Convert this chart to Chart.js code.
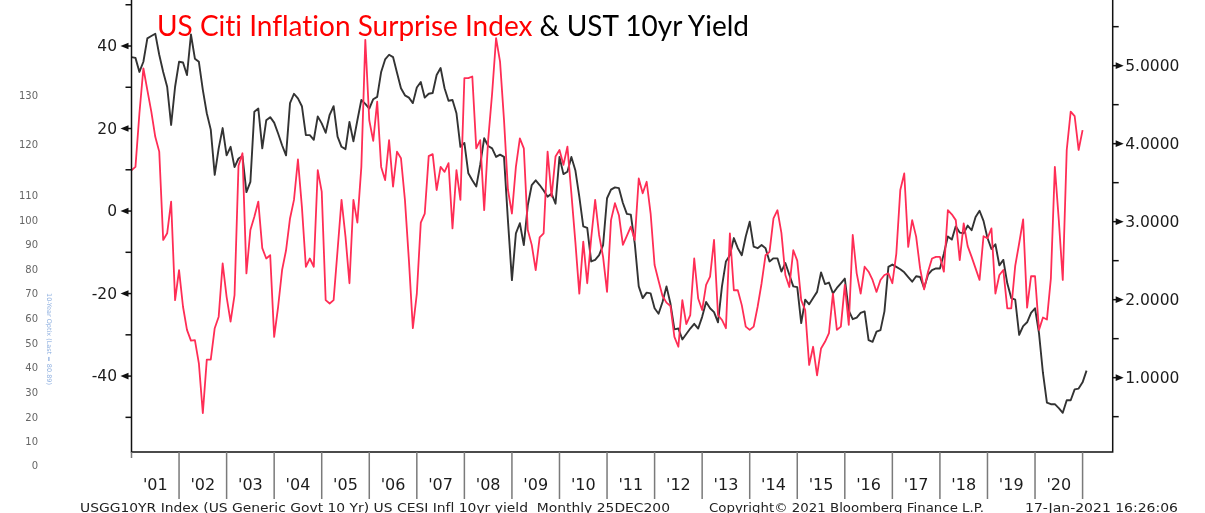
<!DOCTYPE html>
<html>
<head>
<meta charset="utf-8">
<script src="https://cdn.jsdelivr.net/npm/chart.js@4.4.1/dist/chart.umd.min.js"></script>
<style>
  html, body { margin: 0; padding: 0; background: #fff; }
  #wrap { position: relative; width: 1205px; height: 513px; overflow: hidden; }
  #chart { position: absolute; left: 0; top: 0; }
  .t { position: absolute; white-space: pre; transform-origin: 0 0; font-variant-ligatures: none; font-feature-settings: "liga" 0, "clig" 0; }
  #title { left: 157px; top: 10px; font-family: Lato, 'Open Sans', sans-serif; font-size: 29px; line-height: 29px; }
  .foot { top: 501px; font-family: 'DejaVu Sans', sans-serif; font-size: 13px; line-height: 13px; color: #222; }
  .old { left: 14px; width: 24px; text-align: right; font-family: 'DejaVu Sans', sans-serif; font-size: 10px; line-height: 10px; color: #666; }
  #optix { left: 52px; top: 293px; font-family: 'DejaVu Sans', sans-serif; font-size: 6.5px; line-height: 7px; color: #8fb0e0; transform: rotate(90deg); }
</style>
</head>
<body>
<div id="wrap">
  <canvas id="chart" width="1205" height="513"></canvas>
  <div id="title" class="t" data-w="592"><span style="color:#ff0000">US Citi Inflation Surprise Index</span> <span style="color:#000">&amp; UST 10yr Yield</span></div>
  <div class="t foot" style="left:80px" data-w="590">USGG10YR Index (US Generic Govt 10 Yr) US CESI Infl 10yr yield  Monthly 25DEC200</div>
  <div class="t foot" style="left:709px" data-w="275">Copyright© 2021 Bloomberg Finance L.P.</div>
  <div class="t foot" style="left:1025px" data-w="153">17-Jan-2021 16:26:06</div>
  <div id="optix" class="t">10-Year Optix (Last = 80.89)</div>
</div>
<script>
// year labels under the x axis
const years = ["'01", "'02", "'03", "'04", "'05", "'06", "'07", "'08", "'09", "'10",
  "'11", "'12", "'13", "'14", "'15", "'16", "'17", "'18", "'19", "'20"];

// US Citi Inflation Surprise Index, monthly from Jan 2001 (left axis)
const cesiInfl = [
  9.9, 10.7, 23.7, 34.6, 29.3, 24.1, 18.0, 14.4, -7.0, -5.4, 2.3, -21.6,
  -14.3, -23.2, -28.8, -31.4, -31.3, -36.9, -49.0, -36.0, -36.0, -28.4, -25.6, -12.7,
  -20.8, -26.8, -20.4, 11.0, 14.0, -15.1, -4.6, -1.4, 2.3, -9.0, -11.5, -10.7,
  -30.5, -23.2, -14.3, -9.5, -1.8, 2.7, 12.5, 1.0, -13.5, -11.5, -13.5, 9.9,
  4.7, -21.6, -22.4, -21.6, -9.5, 2.7, -6.2, -17.5, 2.7, -2.8, 10.7, 41.5,
  22.0, 17.0, 26.5, 10.7, 7.5, 17.2, 5.9, 14.4, 12.8, 2.7, -11.9, -28.4,
  -20.0, -2.8, -0.6, 13.3, 13.8, 5.1, 10.7, 9.5, 11.6, -4.2, 9.9, 2.7,
  32.2, 32.2, 32.6, 15.2, 17.2, 0.2, 17.2, 28.5, 41.9, 36.2, 22.1, 5.1,
  -0.6, 10.7, 17.6, 15.2, -4.6, -8.2, -14.3, -6.4, -5.4, 14.4, 3.5, 13.2,
  14.8, 11.2, 15.6, 4.3, -7.4, -20.0, -7.4, -17.5, -6.6, 2.7, -5.8, -11.1,
  -19.6, -2.2, 1.9, -1.0, -8.2, -6.0, -3.8, -7.0, 7.9, 4.3, 7.1, -0.6,
  -13.1, -16.9, -20.6, -22.2, -23.0, -30.5, -32.9, -21.6, -27.4, -25.2, -11.5, -21.2,
  -24.0, -17.9, -15.9, -7.0, -25.2, -26.4, -28.4, -5.4, -19.2, -19.2, -22.8, -28.0,
  -28.8, -28.0, -23.2, -17.5, -10.7, -9.9, -1.8, 0.2, -5.3, -15.5, -18.4, -9.5,
  -12.0, -21.6, -24.0, -37.3, -32.9, -39.8, -33.3, -31.7, -29.6, -20.0, -28.8, -28.0,
  -17.9, -27.6, -5.8, -15.1, -20.0, -13.5, -14.7, -16.7, -19.6, -16.7, -15.5, -15.1,
  -17.5, -10.3, 5.1, 9.1, -8.7, -2.2, -6.2, -13.9, -19.0, -14.7, -11.5, -11.1,
  -11.1, -14.7, 0.2, -0.8, -2.2, -11.9, -3.0, -8.5, -11.1, -13.9, -16.7, -6.1,
  -6.6, -4.2, -20.0, -15.5, -14.3, -23.6, -23.6, -13.3, -7.8, -2.0, -23.4, -15.8,
  -15.8, -28.8, -25.8, -26.3, -16.3, 10.7, -2.2, -16.7, 14.8, 24.1, 23.0, 14.8,
  19.6
];

// UST 10yr yield, monthly from Jan 2001 (right axis)
const ust10y = [
  5.11, 5.10, 4.92, 5.05, 5.35, 5.38, 5.41, 5.14, 4.92, 4.73, 4.24, 4.73,
  5.05, 5.04, 4.88, 5.40, 5.09, 5.05, 4.69, 4.39, 4.18, 3.60, 3.94, 4.20,
  3.85, 3.96, 3.70, 3.81, 3.84, 3.38, 3.51, 4.41, 4.45, 3.94, 4.30, 4.34,
  4.27, 4.13, 3.98, 3.85, 4.52, 4.64, 4.58, 4.48, 4.11, 4.11, 4.05, 4.35,
  4.26, 4.14, 4.37, 4.48, 4.09, 3.96, 3.93, 4.28, 4.03, 4.30, 4.56, 4.51,
  4.45, 4.57, 4.60, 4.92, 5.08, 5.14, 5.11, 4.91, 4.71, 4.62, 4.59, 4.52,
  4.72, 4.79, 4.59, 4.64, 4.65, 4.88, 4.97, 4.71, 4.55, 4.56, 4.39, 3.96,
  4.01, 3.62, 3.53, 3.45, 3.73, 4.07, 3.97, 3.94, 3.83, 3.86, 3.83, 3.01,
  2.25, 2.85, 2.98, 2.70, 3.21, 3.47, 3.53, 3.47, 3.40, 3.32, 3.36, 3.23,
  3.83, 3.61, 3.64, 3.83, 3.66, 3.32, 2.94, 2.92, 2.49, 2.51, 2.57, 2.70,
  3.30, 3.41, 3.44, 3.43, 3.24, 3.10, 3.09, 2.72, 2.17, 2.02, 2.09, 2.08,
  1.89, 1.82, 1.97, 2.17, 1.95, 1.62, 1.63, 1.49, 1.56, 1.63, 1.69, 1.63,
  1.78, 1.97, 1.89, 1.84, 1.71, 2.17, 2.49, 2.57, 2.79, 2.66, 2.57, 2.81,
  3.00, 2.68, 2.66, 2.70, 2.66, 2.49, 2.53, 2.53, 2.36, 2.47, 2.32, 2.17,
  2.16, 1.70, 2.00, 1.94, 2.02, 2.10, 2.35, 2.20, 2.22, 2.08, 2.15, 2.21,
  2.27, 1.86, 1.75, 1.77, 1.83, 1.85, 1.48, 1.46, 1.59, 1.61, 1.85, 2.42,
  2.45, 2.42, 2.39, 2.35, 2.29, 2.23, 2.30, 2.29, 2.15, 2.32, 2.38, 2.40,
  2.40, 2.59, 2.81, 2.77, 2.94, 2.86, 2.85, 2.95, 2.89, 3.06, 3.14, 3.01,
  2.79, 2.65, 2.71, 2.44, 2.51, 2.21, 2.02, 2.00, 1.55, 1.66, 1.71, 1.83,
  1.89, 1.57, 1.06, 0.68, 0.66, 0.66, 0.61, 0.55, 0.71, 0.71, 0.85, 0.86,
  0.94, 1.09
];

// axis ticks
const leftTicks = [-50, -40, -30, -20, -10, 0, 10, 20, 30, 40, 50];
const rightTicks = [0.5, 1, 1.5, 2, 2.5, 3, 3.5, 4, 4.5, 5, 5.5];

// leftover axis from the pasted screenshot on the far left
const oldTicks = [130, 120, 110, 100, 90, 80, 70, 60, 50, 40, 30, 20, 10, 0];
const oldTickTops = [91, 140, 191, 216, 240, 265, 289, 314, 339, 363, 388, 413, 437, 461];

const wrap = document.getElementById('wrap');
oldTicks.forEach((v, i) => {
  const d = document.createElement('div');
  d.className = 't old';
  d.style.top = oldTickTops[i] + 'px';
  d.textContent = v;
  wrap.appendChild(d);
});

const axisFont = '15.5px "DejaVu Sans", sans-serif';

function triangle(ctx, xAxis, y, dir) {
  ctx.beginPath();
  ctx.moveTo(xAxis, y);
  ctx.lineTo(xAxis + dir * 4, y);
  ctx.stroke();
  ctx.beginPath();
  ctx.moveTo(xAxis + dir * 3, y - 3.3);
  ctx.lineTo(xAxis + dir * 11, y);
  ctx.lineTo(xAxis + dir * 3, y + 3.3);
  ctx.closePath();
  ctx.fill();
}

const bbgAxes = {
  id: 'bbgAxes',
  afterDraw(chart) {
    const { ctx, chartArea: a, scales: { x, yL, yR } } = chart;
    ctx.save();
    ctx.strokeStyle = '#111';
    ctx.fillStyle = '#111';
    ctx.lineWidth = 1.5;

    // frame (top is off the picture)
    ctx.beginPath();
    ctx.moveTo(a.left, a.top);
    ctx.lineTo(a.left, a.bottom);
    ctx.lineTo(a.right, a.bottom);
    ctx.lineTo(a.right, a.top);
    ctx.stroke();

    ctx.font = axisFont;
    ctx.textBaseline = 'middle';

    // left axis
    ctx.textAlign = 'right';
    leftTicks.forEach(v => {
      const y = yL.getPixelForValue(v);
      if (v % 20 === 0) {
        triangle(ctx, a.left, y, -1);
        ctx.fillStyle = '#1c1c1c';
        ctx.fillText(String(v), a.left - 14.5, y + 1);
        ctx.fillStyle = '#111';
      } else {
        ctx.beginPath();
        ctx.moveTo(a.left - 6, y);
        ctx.lineTo(a.left, y);
        ctx.stroke();
      }
    });

    // right axis
    ctx.textAlign = 'left';
    rightTicks.forEach(v => {
      const y = yR.getPixelForValue(v);
      if (Number.isInteger(v)) {
        triangle(ctx, a.right, y, 1);
        ctx.fillStyle = '#1c1c1c';
        ctx.fillText(v.toFixed(4), a.right + 12.5, y + 1);
        ctx.fillStyle = '#111';
      } else {
        ctx.beginPath();
        ctx.moveTo(a.right, y);
        ctx.lineTo(a.right + 6, y);
        ctx.stroke();
      }
    });

    // year separators and labels
    ctx.strokeStyle = '#7a7a7a';
    ctx.beginPath();
    ctx.moveTo(x.getPixelForValue(0), a.bottom);
    ctx.lineTo(x.getPixelForValue(0), a.bottom + 6);
    for (let k = 1; k <= years.length; k++) {
      const px = x.getPixelForValue(12 * k);
      ctx.moveTo(px, a.bottom);
      ctx.lineTo(px, a.bottom + 47);
    }
    ctx.stroke();

    ctx.textAlign = 'center';
    ctx.font = '16px "DejaVu Sans", sans-serif';
    ctx.fillStyle = '#1c1c1c';
    years.forEach((lab, k) => {
      ctx.fillText(lab, x.getPixelForValue(12 * k + 6), 486);
    });
    ctx.restore();
  }
};

const ctx = document.getElementById('chart').getContext('2d');
const chart = new Chart(ctx, {
  type: 'line',
  data: {
    datasets: [{
      label: 'US CESI Infl',
      data: cesiInfl.map((v, i) => ({ x: i, y: v })),
      yAxisID: 'yL',
      borderColor: '#ff2d55',
      borderWidth: 1.8,
      pointRadius: 0,
      tension: 0,
      borderJoinStyle: 'round'
    }, {
      label: 'USGG10YR',
      data: ust10y.map((v, i) => ({ x: i, y: v })),
      yAxisID: 'yR',
      borderColor: '#333333',
      borderWidth: 1.9,
      pointRadius: 0,
      tension: 0,
      borderJoinStyle: 'round'
    }]
  },
  options: {
    responsive: false,
    animation: false,
    devicePixelRatio: 1,
    layout: { padding: { left: 131.5, right: 92.3, top: 0, bottom: 61 } },
    plugins: { legend: { display: false }, tooltip: { enabled: false } },
    scales: {
      x: { type: 'linear', display: false, min: 0, max: 247.6 },
      yL: { type: 'linear', display: false, min: -58.4, max: 51.15 },
      yR: { type: 'linear', display: false, min: 0.047, max: 5.842 }
    }
  },
  plugins: [bbgAxes]
});

// squeeze texts to the widths they have in the screenshot
function fitTexts() {
  document.querySelectorAll('[data-w]').forEach(el => {
    el.style.transform = 'none';
    const w = el.getBoundingClientRect().width;
    el.style.transform = 'scaleX(' + (+el.dataset.w / w) + ')';
  });
}
fitTexts();
if (document.fonts) document.fonts.ready.then(fitTexts);
</script>
</body>
</html>
